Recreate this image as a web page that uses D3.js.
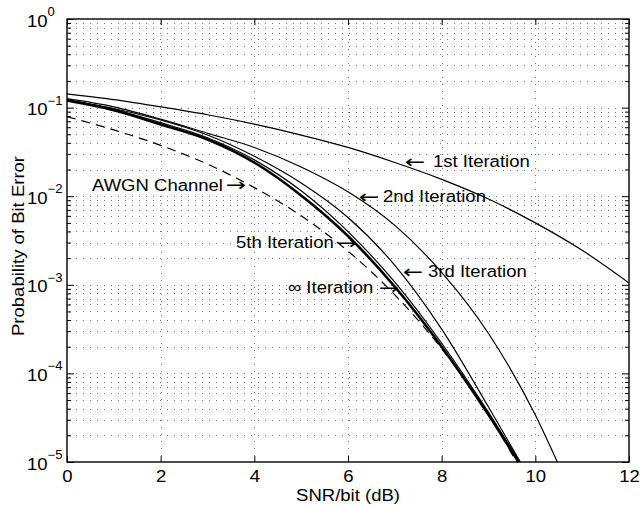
<!DOCTYPE html>
<html>
<head>
<meta charset="utf-8">
<script src="https://cdn.jsdelivr.net/npm/d3@7"></script>
<style>
  body { margin: 0; background: #fff; }
  svg { display: block; }
  text { font-family: "Liberation Sans", Arial, Helvetica, sans-serif; fill: #000; }
</style>
</head>
<body>
<svg id="chart" width="641" height="506"></svg>
<script>
// tick values
const xTicks = [0, 2, 4, 6, 8, 10, 12];
const yDecades = [-5, -4, -3, -2, -1, 0];

// SNR/bit (dB) and bit error probability
const snr1st = [0, 1, 2, 3, 4, 5, 6, 7, 8, 9, 10, 11, 12];
const pb1st = [0.143, 0.123, 0.102, 0.083, 0.065, 0.049, 0.0355, 0.024, 0.0155, 0.0093, 0.0050, 0.00245, 0.00105];

const snr2nd = [0, 1, 2, 3, 4, 5, 6, 7, 8, 9, 10, 10.47];
const pb2nd = [0.126, 0.102, 0.0741, 0.0513, 0.0355, 0.0214, 0.0112, 0.00468, 0.00138, 2.82e-4, 3.39e-5, 1e-5];

const snr3rd = [0, 1, 2, 3, 4, 5, 6, 7, 8, 9, 9.68];
const pb3rd = [0.120, 0.0977, 0.0724, 0.0490, 0.0282, 0.0141, 0.00575, 0.00166, 3.16e-4, 4.17e-5, 1e-5];

const snr5th = [0, 1, 2, 3, 4, 5, 6, 7, 8, 9, 9.66];
const pb5th = [0.123, 0.0955, 0.0676, 0.0457, 0.0257, 0.0115, 0.00398, 0.00107, 2.19e-4, 3.63e-5, 1e-5];

const snrInf = [0, 1, 2, 3, 4, 5, 6, 7, 8, 9, 9.64];
const pbInf = [0.120, 0.0933, 0.0646, 0.0437, 0.0240, 0.0102, 0.00355, 9.5e-4, 2.0e-4, 3.4e-5, 1e-5];

const snrAwgn = [0, 1, 2, 3, 4, 5, 6, 7, 8, 9, 9.6];
const pbAwgn = [0.079, 0.056, 0.0375, 0.023, 0.0125, 0.006, 0.0024, 7.7e-4, 1.9e-4, 3.4e-5, 1e-5];

const margin = { top: 19, right: 12, bottom: 44, left: 67 };
const W = 641, H = 506;
const innerW = W - margin.left - margin.right;
const innerH = H - margin.top - margin.bottom;
const SX = 1.09; // scanned text is a bit wider than Arial

const svg = d3.select("#chart");
const g = svg.append("g").attr("transform", `translate(${margin.left},${margin.top})`);

const x = d3.scaleLinear().domain([0, 12]).range([0, innerW]);
const y = d3.scaleLog().domain([1e-5, 1]).range([innerH, 0]);

const stretch = (sel, sx = SX) => sel.each(function () {
  const t = d3.select(this);
  const tx = +t.attr("x") || 0, ty = +t.attr("y") || 0;
  t.attr("x", 0).attr("y", 0).attr("transform", `translate(${tx},${ty}) scale(${sx},1)`);
});

// minor log values
const minors = [];
yDecades.slice(0, -1).forEach((d) => {
  for (let m = 2; m <= 9; m++) minors.push(m * Math.pow(10, d));
});

// grid
const grid = g.append("g").attr("class", "grid")
  .attr("stroke", "#000").attr("stroke-width", 1)
  .attr("stroke-dasharray", "1,6").attr("opacity", 0.55);

grid.selectAll("line.h")
  .data(minors.concat(yDecades.slice(1, -1).map((d) => Math.pow(10, d))))
  .enter().append("line")
  .attr("class", "h")
  .attr("x1", 2).attr("x2", innerW)
  .attr("y1", (d) => Math.round(y(d)) + 0.5).attr("y2", (d) => Math.round(y(d)) + 0.5);

grid.selectAll("line.v")
  .data(xTicks.slice(1, -1))
  .enter().append("line")
  .attr("class", "v")
  .attr("y1", 2).attr("y2", innerH)
  .attr("x1", (d) => Math.round(x(d)) + 0.5).attr("x2", (d) => Math.round(x(d)) + 0.5);

// axes (inward ticks)
const xAxis = g.append("g")
  .attr("transform", `translate(0,${innerH})`)
  .call(d3.axisBottom(x).tickValues(xTicks).tickSizeInner(-6).tickSizeOuter(0).tickPadding(8));
xAxis.select(".domain").remove();
xAxis.selectAll("text").attr("font-size", 17).attr("font-family", null);
xAxis.selectAll("text").attr("transform", `scale(${SX},1)`);

g.append("g")
  .call(d3.axisTop(x).tickValues(xTicks).tickSizeInner(-6).tickSizeOuter(0).tickFormat(""))
  .select(".domain").remove();

const yAxisL = g.append("g")
  .call(d3.axisLeft(y).tickValues(yDecades.map((d) => Math.pow(10, d))).tickSizeInner(-7).tickSizeOuter(0).tickFormat(""));
yAxisL.select(".domain").remove();
g.append("g")
  .call(d3.axisLeft(y).tickValues(minors).tickSizeInner(-4).tickSizeOuter(0).tickFormat(""))
  .select(".domain").remove();
const yAxisR = g.append("g").attr("transform", `translate(${innerW},0)`)
  .call(d3.axisRight(y).tickValues(yDecades.map((d) => Math.pow(10, d))).tickSizeInner(-7).tickSizeOuter(0).tickFormat(""));
yAxisR.select(".domain").remove();
g.append("g").attr("transform", `translate(${innerW},0)`)
  .call(d3.axisRight(y).tickValues(minors).tickSizeInner(-4).tickSizeOuter(0).tickFormat(""))
  .select(".domain").remove();

// frame
g.append("rect")
  .attr("x", 0).attr("y", 0).attr("width", innerW).attr("height", innerH)
  .attr("fill", "none").attr("stroke", "#000").attr("stroke-width", 1.4);

// y tick labels 10^k
const yLab = svg.append("g");
yDecades.forEach((d) => {
  const yy = margin.top + y(Math.pow(10, d));
  const t = yLab.append("text")
    .attr("transform", `translate(27,${yy + 7.5}) scale(${SX},1)`)
    .attr("font-size", 17);
  t.append("tspan").text("10");
  t.append("tspan").attr("dy", -10.5).attr("font-size", 12)
    .text(d === 0 ? "0" : "\u2212" + Math.abs(d));
});

// curves
const line = d3.line()
  .x((d) => x(d[0]))
  .y((d) => y(d[1]))
  .curve(d3.curveMonotoneX);

const series = [
  { snr: snr1st, pb: pb1st, w: 1.2, dash: null },
  { snr: snr2nd, pb: pb2nd, w: 1.2, dash: null },
  { snr: snr3rd, pb: pb3rd, w: 1.2, dash: null },
  { snr: snr5th, pb: pb5th, w: 1.2, dash: null },
  { snr: snrAwgn, pb: pbAwgn, w: 1.2, dash: "9,6" },
  { snr: snrInf, pb: pbInf, w: 2.6, dash: null },
];

g.selectAll("path.curve")
  .data(series)
  .enter().append("path")
  .attr("class", "curve")
  .attr("d", (s) => line(s.snr.map((v, i) => [v, s.pb[i]])))
  .attr("fill", "none")
  .attr("stroke", "#000")
  .attr("stroke-width", (s) => s.w)
  .attr("stroke-dasharray", (s) => s.dash);

// annotations
const labels = [
  { text: "1st Iteration", x: 433, y: 167, anchor: "start" },
  { text: "2nd Iteration", x: 383, y: 202, anchor: "start" },
  { text: "3rd Iteration", x: 428, y: 277, anchor: "start" },
  { text: "5th Iteration", x: 236, y: 248, anchor: "start" },
  { text: "\u221e Iteration", x: 288, y: 293, anchor: "start" },
  { text: "AWGN Channel", x: 223, y: 191, anchor: "end" },
];
const arrows = [
  { text: "\u2190", x: 415, y: 168 },
  { text: "\u2190", x: 369, y: 203 },
  { text: "\u2190", x: 413, y: 278 },
  { text: "\u2192", x: 347, y: 249 },
  { text: "\u2192", x: 389, y: 294 },
  { text: "\u2192", x: 236, y: 191 },
];

const ann = svg.append("g").attr("font-size", 17);
ann.selectAll("text.lbl")
  .data(labels)
  .enter().append("text")
  .attr("class", "lbl")
  .attr("x", (d) => d.x).attr("y", (d) => d.y)
  .attr("text-anchor", (d) => d.anchor)
  .text((d) => d.text)
  .call(stretch);
ann.selectAll("text.arr")
  .data(arrows)
  .enter().append("text")
  .attr("class", "arr")
  .attr("x", (d) => d.x).attr("y", (d) => d.y)
  .attr("text-anchor", "middle")
  .style("font-family", "'DejaVu Sans', sans-serif")
  .attr("font-size", 18)
  .text((d) => d.text)
  .call(stretch, 1.35);

// axis titles
svg.append("text")
  .attr("transform", `translate(${margin.left + innerW / 2},501) scale(${SX},1)`)
  .attr("text-anchor", "middle").attr("font-size", 17)
  .text("SNR/bit (dB)");
svg.append("text")
  .attr("transform", `translate(24,246) rotate(-90) scale(${SX},1)`)
  .attr("text-anchor", "middle").attr("font-size", 17)
  .text("Probability of Bit Error");
</script>
</body>
</html>
